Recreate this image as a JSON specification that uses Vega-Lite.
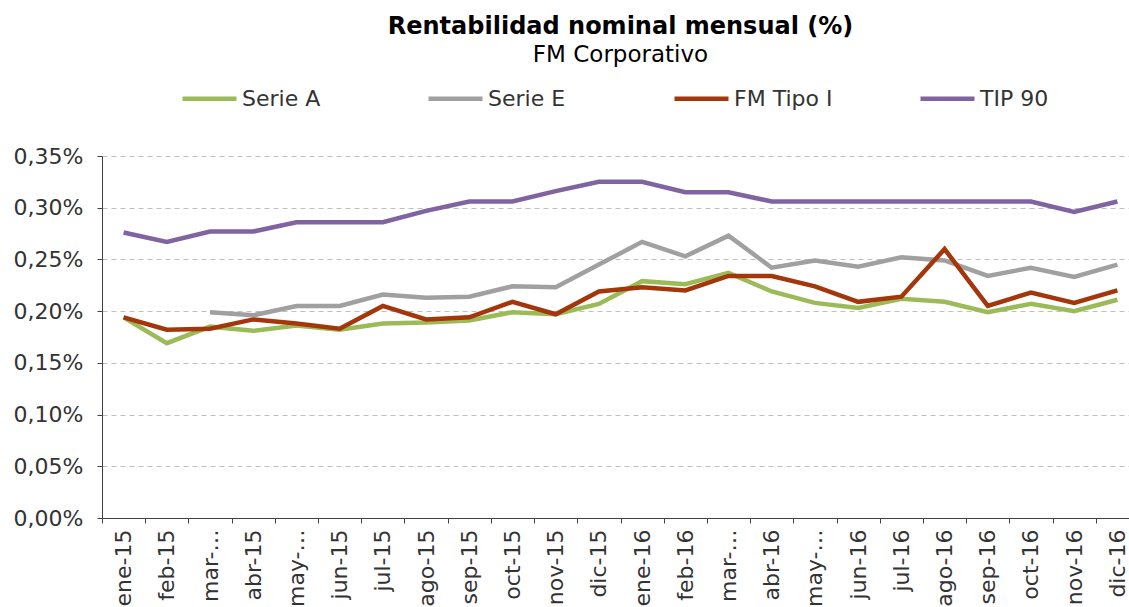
{
  "$schema": "https://vega.github.io/schema/vega-lite/v6.json",
  "width": 1037,
  "height": 362,
  "autosize": "none",
  "padding": {"left": 102, "top": 156, "right": -10, "bottom": 89},
  "background": "white",
  "config": {
    "font": "DejaVu Sans",
    "view": {"stroke": null}
  },
  "title": {
    "text": "Rentabilidad nominal mensual (%)",
    "subtitle": "FM Corporativo",
    "anchor": "middle",
    "frame": "group",
    "font": "DejaVu Sans",
    "fontSize": 24,
    "fontWeight": "bold",
    "color": "#000000",
    "subtitleFont": "DejaVu Sans",
    "subtitleFontSize": 23,
    "subtitleColor": "#000000",
    "subtitlePadding": 5,
    "offset": 2
  },
  "data": {
    "values": [
      {"mes": "ene-15", "serie": "Serie A", "valor": 0.194},
      {"mes": "feb-15", "serie": "Serie A", "valor": 0.169},
      {"mes": "mar-15", "serie": "Serie A", "valor": 0.185},
      {"mes": "abr-15", "serie": "Serie A", "valor": 0.181},
      {"mes": "may-15", "serie": "Serie A", "valor": 0.186},
      {"mes": "jun-15", "serie": "Serie A", "valor": 0.182},
      {"mes": "jul-15", "serie": "Serie A", "valor": 0.188},
      {"mes": "ago-15", "serie": "Serie A", "valor": 0.189},
      {"mes": "sep-15", "serie": "Serie A", "valor": 0.191},
      {"mes": "oct-15", "serie": "Serie A", "valor": 0.199},
      {"mes": "nov-15", "serie": "Serie A", "valor": 0.197},
      {"mes": "dic-15", "serie": "Serie A", "valor": 0.207},
      {"mes": "ene-16", "serie": "Serie A", "valor": 0.229},
      {"mes": "feb-16", "serie": "Serie A", "valor": 0.226},
      {"mes": "mar-16", "serie": "Serie A", "valor": 0.237},
      {"mes": "abr-16", "serie": "Serie A", "valor": 0.219},
      {"mes": "may-16", "serie": "Serie A", "valor": 0.208},
      {"mes": "jun-16", "serie": "Serie A", "valor": 0.203},
      {"mes": "jul-16", "serie": "Serie A", "valor": 0.212},
      {"mes": "ago-16", "serie": "Serie A", "valor": 0.209},
      {"mes": "sep-16", "serie": "Serie A", "valor": 0.199},
      {"mes": "oct-16", "serie": "Serie A", "valor": 0.207},
      {"mes": "nov-16", "serie": "Serie A", "valor": 0.200},
      {"mes": "dic-16", "serie": "Serie A", "valor": 0.211},
      {"mes": "mar-15", "serie": "Serie E", "valor": 0.199},
      {"mes": "abr-15", "serie": "Serie E", "valor": 0.196},
      {"mes": "may-15", "serie": "Serie E", "valor": 0.205},
      {"mes": "jun-15", "serie": "Serie E", "valor": 0.205},
      {"mes": "jul-15", "serie": "Serie E", "valor": 0.216},
      {"mes": "ago-15", "serie": "Serie E", "valor": 0.213},
      {"mes": "sep-15", "serie": "Serie E", "valor": 0.214},
      {"mes": "oct-15", "serie": "Serie E", "valor": 0.224},
      {"mes": "nov-15", "serie": "Serie E", "valor": 0.223},
      {"mes": "dic-15", "serie": "Serie E", "valor": 0.245},
      {"mes": "ene-16", "serie": "Serie E", "valor": 0.267},
      {"mes": "feb-16", "serie": "Serie E", "valor": 0.253},
      {"mes": "mar-16", "serie": "Serie E", "valor": 0.273},
      {"mes": "abr-16", "serie": "Serie E", "valor": 0.242},
      {"mes": "may-16", "serie": "Serie E", "valor": 0.249},
      {"mes": "jun-16", "serie": "Serie E", "valor": 0.243},
      {"mes": "jul-16", "serie": "Serie E", "valor": 0.252},
      {"mes": "ago-16", "serie": "Serie E", "valor": 0.249},
      {"mes": "sep-16", "serie": "Serie E", "valor": 0.234},
      {"mes": "oct-16", "serie": "Serie E", "valor": 0.242},
      {"mes": "nov-16", "serie": "Serie E", "valor": 0.233},
      {"mes": "dic-16", "serie": "Serie E", "valor": 0.245},
      {"mes": "ene-15", "serie": "FM Tipo I", "valor": 0.194},
      {"mes": "feb-15", "serie": "FM Tipo I", "valor": 0.182},
      {"mes": "mar-15", "serie": "FM Tipo I", "valor": 0.183},
      {"mes": "abr-15", "serie": "FM Tipo I", "valor": 0.192},
      {"mes": "may-15", "serie": "FM Tipo I", "valor": 0.188},
      {"mes": "jun-15", "serie": "FM Tipo I", "valor": 0.183},
      {"mes": "jul-15", "serie": "FM Tipo I", "valor": 0.205},
      {"mes": "ago-15", "serie": "FM Tipo I", "valor": 0.192},
      {"mes": "sep-15", "serie": "FM Tipo I", "valor": 0.194},
      {"mes": "oct-15", "serie": "FM Tipo I", "valor": 0.209},
      {"mes": "nov-15", "serie": "FM Tipo I", "valor": 0.197},
      {"mes": "dic-15", "serie": "FM Tipo I", "valor": 0.219},
      {"mes": "ene-16", "serie": "FM Tipo I", "valor": 0.223},
      {"mes": "feb-16", "serie": "FM Tipo I", "valor": 0.220},
      {"mes": "mar-16", "serie": "FM Tipo I", "valor": 0.234},
      {"mes": "abr-16", "serie": "FM Tipo I", "valor": 0.234},
      {"mes": "may-16", "serie": "FM Tipo I", "valor": 0.224},
      {"mes": "jun-16", "serie": "FM Tipo I", "valor": 0.209},
      {"mes": "jul-16", "serie": "FM Tipo I", "valor": 0.214},
      {"mes": "ago-16", "serie": "FM Tipo I", "valor": 0.260},
      {"mes": "sep-16", "serie": "FM Tipo I", "valor": 0.205},
      {"mes": "oct-16", "serie": "FM Tipo I", "valor": 0.218},
      {"mes": "nov-16", "serie": "FM Tipo I", "valor": 0.208},
      {"mes": "dic-16", "serie": "FM Tipo I", "valor": 0.220},
      {"mes": "ene-15", "serie": "TIP 90", "valor": 0.276},
      {"mes": "feb-15", "serie": "TIP 90", "valor": 0.267},
      {"mes": "mar-15", "serie": "TIP 90", "valor": 0.277},
      {"mes": "abr-15", "serie": "TIP 90", "valor": 0.277},
      {"mes": "may-15", "serie": "TIP 90", "valor": 0.286},
      {"mes": "jun-15", "serie": "TIP 90", "valor": 0.286},
      {"mes": "jul-15", "serie": "TIP 90", "valor": 0.286},
      {"mes": "ago-15", "serie": "TIP 90", "valor": 0.297},
      {"mes": "sep-15", "serie": "TIP 90", "valor": 0.306},
      {"mes": "oct-15", "serie": "TIP 90", "valor": 0.306},
      {"mes": "nov-15", "serie": "TIP 90", "valor": 0.316},
      {"mes": "dic-15", "serie": "TIP 90", "valor": 0.325},
      {"mes": "ene-16", "serie": "TIP 90", "valor": 0.325},
      {"mes": "feb-16", "serie": "TIP 90", "valor": 0.315},
      {"mes": "mar-16", "serie": "TIP 90", "valor": 0.315},
      {"mes": "abr-16", "serie": "TIP 90", "valor": 0.306},
      {"mes": "may-16", "serie": "TIP 90", "valor": 0.306},
      {"mes": "jun-16", "serie": "TIP 90", "valor": 0.306},
      {"mes": "jul-16", "serie": "TIP 90", "valor": 0.306},
      {"mes": "ago-16", "serie": "TIP 90", "valor": 0.306},
      {"mes": "sep-16", "serie": "TIP 90", "valor": 0.306},
      {"mes": "oct-16", "serie": "TIP 90", "valor": 0.306},
      {"mes": "nov-16", "serie": "TIP 90", "valor": 0.296},
      {"mes": "dic-16", "serie": "TIP 90", "valor": 0.306}
    ]
  },
  "mark": {"type": "line", "strokeWidth": 4.5},
  "encoding": {
    "x": {
      "field": "mes",
      "type": "nominal",
      "sort": null,
      "scale": {"type": "band", "paddingInner": 0, "paddingOuter": 0},
      "axis": {
        "title": null,
        "grid": false,
        "labelAngle": -90,
        "labelFontSize": 22,
        "labelColor": "#333333",
        "labelPadding": 6,
        "labelOffset": 21.6,
        "tickSize": 5,
        "tickOffset": -21.6,
        "tickColor": "#404040",
        "domainColor": "#404040",
        "labelOverlap": false,
        "labelExpr": "(slice(datum.value, 0, 3) == 'mar' || slice(datum.value, 0, 3) == 'may') ? slice(datum.value, 0, 4) + '…' : datum.value"
      }
    },
    "y": {
      "field": "valor",
      "type": "quantitative",
      "scale": {"domain": [0, 0.35], "nice": false, "zero": true},
      "axis": {
        "title": null,
        "values": [0, 0.05, 0.1, 0.15, 0.2, 0.25, 0.3, 0.35],
        "labelExpr": "replace(format(datum.value, '.2f'), '.', ',') + '%'",
        "labelFontSize": 22,
        "labelColor": "#333333",
        "labelPadding": 14,
        "tickSize": 5,
        "tickColor": "#404040",
        "domainColor": "#404040",
        "grid": true,
        "gridColor": "#BFBFBF",
        "gridDash": [5, 4],
        "gridWidth": 1
      }
    },
    "color": {
      "field": "serie",
      "type": "nominal",
      "scale": {
        "domain": ["Serie A", "Serie E", "FM Tipo I", "TIP 90"],
        "range": ["#9BBB59", "#A0A0A0", "#A3360A", "#8064A2"]
      },
      "legend": {
        "title": null,
        "orient": "none",
        "legendX": 78,
        "legendY": -87,
        "direction": "horizontal",
        "columns": 4,
        "gridAlign": "all",
        "symbolType": "stroke",
        "symbolSize": 2916,
        "symbolStrokeWidth": 4.5,
        "labelFontSize": 22,
        "labelColor": "#333333",
        "labelOffset": 3,
        "columnPadding": 78
      }
    }
  }
}
